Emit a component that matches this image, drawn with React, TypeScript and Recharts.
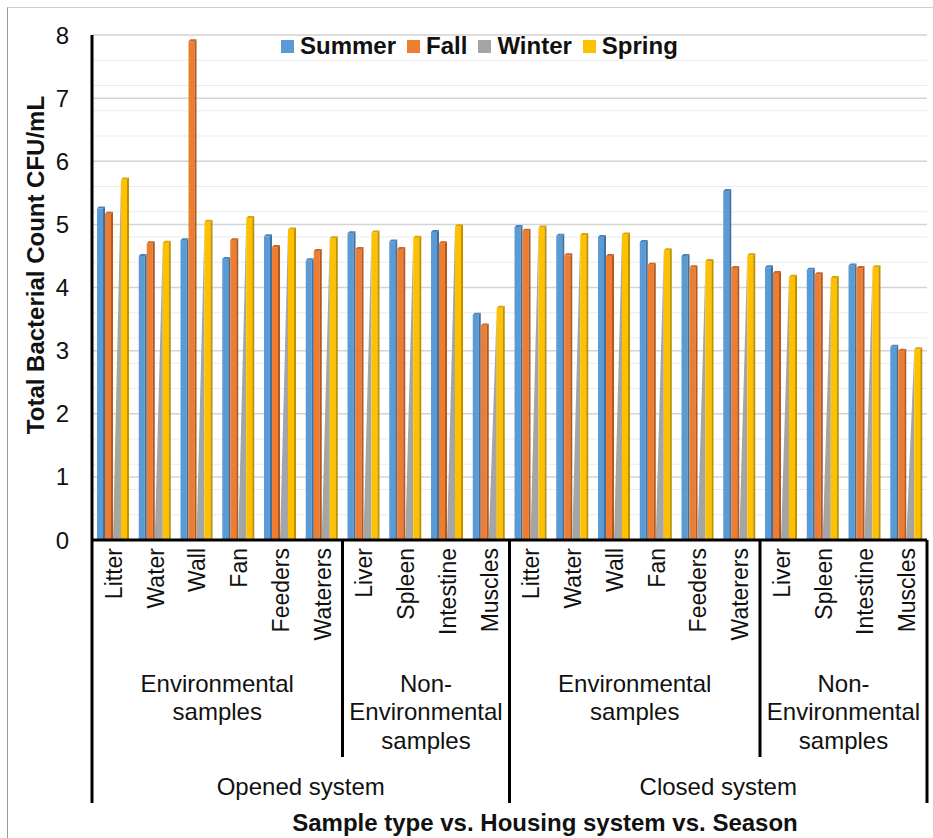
import React from "react";
import { BarChart, Bar, XAxis, YAxis, CartesianGrid, Legend } from "recharts";

const W = 933;
const H = 838;
const PLOT_LEFT = 92;
const PLOT_RIGHT = 927;
const PLOT_TOP = 35;
const PLOT_BOTTOM = 540;
const PLOT_W = PLOT_RIGHT - PLOT_LEFT;
const FONT = "'Liberation Sans', Arial, sans-serif";

const samples = [
  "Litter", "Water", "Wall", "Fan", "Feeders", "Waterers", "Liver", "Spleen", "Intestine", "Muscles",
  "Litter", "Water", "Wall", "Fan", "Feeders", "Waterers", "Liver", "Spleen", "Intestine", "Muscles",
];
const summer = [5.25, 4.5, 4.75, 4.45, 4.81, 4.43, 4.86, 4.73, 4.88, 3.57, 4.96, 4.82, 4.8, 4.72, 4.5, 5.53, 4.32, 4.28, 4.35, 3.06];
const fall = [5.17, 4.7, 7.9, 4.75, 4.64, 4.58, 4.61, 4.61, 4.7, 3.4, 4.9, 4.51, 4.5, 4.36, 4.32, 4.31, 4.23, 4.21, 4.31, 3.0];
const winter = [5.7, 4.7, 5.0, 5.08, 4.9, 4.76, 4.85, 4.78, 4.95, 3.66, 4.94, 4.82, 4.83, 4.58, 4.41, 4.5, 4.16, 4.14, 4.31, 3.01];
const spring = [5.71, 4.71, 5.04, 5.1, 4.92, 4.78, 4.87, 4.79, 4.97, 3.68, 4.95, 4.83, 4.84, 4.59, 4.42, 4.51, 4.17, 4.15, 4.32, 3.02];

const yTicks = [0, 1, 2, 3, 4, 5, 6, 7, 8];
const minorTicks = Array.from({ length: 41 }, (_, i) => Math.round(i * 2) / 10);

// sample type groups under the category labels
const typeGroups = [
  { lines: ["Environmental", "samples"], start: 0, size: 6 },
  { lines: ["Non-", "Environmental", "samples"], start: 6, size: 4 },
  { lines: ["Environmental", "samples"], start: 10, size: 6 },
  { lines: ["Non-", "Environmental", "samples"], start: 16, size: 4 },
];
const systems = [
  { label: "Opened system", start: 0, size: 10 },
  { label: "Closed system", start: 10, size: 10 },
];

const series = [
  { key: "Summer", color: "#5b9bd5", side: "#3f70a0", top: "#4a84bd" },
  { key: "Fall", color: "#ed7d31", side: "#b05a1f", top: "#c9662a" },
  { key: "Winter", color: "#a5a5a5", side: "#a5a5a5", top: "#a5a5a5" },
  { key: "Spring", color: "#ffc000", side: "#bf9000", top: "#d9a400" },
];

const data = samples.map((name, i) => ({
  id: String(i),
  name,
  Summer: summer[i],
  Fall: fall[i],
  Winter: winter[i],
  Spring: spring[i],
}));

function Column3D(props: any) {
  const { x, y, width, height, fill, side, top } = props;
  if (!height || height <= 0) return null;
  const d = 2;
  const fw = width - d;
  return (
    <g>
      <rect x={x} y={y} width={fw} height={height} fill={fill} />
      <polygon points={`${x + fw},${y} ${x + width},${y - d} ${x + width},${y + height} ${x + fw},${y + height}`} fill={side} />
      <polygon points={`${x},${y} ${x + d},${y - d} ${x + width},${y - d} ${x + fw},${y}`} fill={top} />
    </g>
  );
}

// winter columns sit behind the others, only a tapering sliver shows
function Wedge(props: any) {
  const { x, y, width, height, fill } = props;
  if (!height || height <= 0) return null;
  return <polygon points={`${x},${y + height} ${x + width},${y + height} ${x + width},${y}`} fill={fill} />;
}

function SampleTick(props: any) {
  const { x, payload } = props;
  const i = payload.index;
  const band = PLOT_W / samples.length;
  const left = x - band / 2;
  const out: React.ReactNode[] = [];
  out.push(
    <text
      key="lbl"
      transform={`translate(${x + 1},${PLOT_BOTTOM + 8}) rotate(-90)`}
      textAnchor="end"
      dominantBaseline="central"
      fontSize={23}
      fontFamily={FONT}
      fill="#111"
    >
      {samples[i]}
    </text>
  );
  const sys = systems.find((s) => s.start === i);
  const grp = typeGroups.find((g) => g.start === i);
  if (grp) {
    out.push(
      <line key="sep" x1={left} x2={left} y1={PLOT_BOTTOM} y2={sys ? 803 : 757} stroke="#000" strokeWidth={3} />
    );
    const cx = left + (grp.size * band) / 2;
    grp.lines.forEach((ln, k) => {
      out.push(
        <text key={"g" + k} x={cx} y={683 + k * 28.5} textAnchor="middle" dominantBaseline="central" fontSize={24} fontFamily={FONT} fill="#111">
          {ln}
        </text>
      );
    });
  }
  if (sys) {
    out.push(
      <text key="sys" x={left + (sys.size * band) / 2} y={786} textAnchor="middle" dominantBaseline="central" fontSize={24} fontFamily={FONT} fill="#111">
        {sys.label}
      </text>
    );
  }
  if (i === samples.length - 1) {
    out.push(<line key="end" x1={left + band} x2={left + band} y1={PLOT_BOTTOM} y2={803} stroke="#000" strokeWidth={3} />);
  }
  return <g>{out}</g>;
}

function LegendRow() {
  return (
    <div style={{ display: "flex", alignItems: "center", fontFamily: FONT, fontWeight: "bold", fontSize: 24, lineHeight: "30px", color: "#111" }}>
      {series.map((s) => (
        <div key={s.key} style={{ display: "flex", alignItems: "center", marginRight: 11 }}>
          <span style={{ display: "inline-block", width: 13, height: 13, background: s.color, marginRight: 6 }} />
          <span>{s.key}</span>
        </div>
      ))}
    </div>
  );
}

export default function App() {
  return (
    <div style={{ position: "relative", width: W, height: H, background: "#fff", overflow: "hidden" }}>
      <style>{"body{margin:0}"}</style>
      <div style={{ position: "absolute", left: 7, top: 7, width: W, height: H, borderLeft: "1px solid #9a9a9a", borderTop: "1px solid #cfcfcf" }} />
      <BarChart
        width={W}
        height={H}
        data={data}
        margin={{ top: PLOT_TOP, right: W - PLOT_RIGHT, bottom: 0, left: 32 }}
        barCategoryGap="12%"
        barGap={0}
      >
        {/* faint minor lines every 0.2, then the integer lines on top */}
        <CartesianGrid vertical={false} stroke="#ebebeb" horizontalValues={minorTicks} />
        <CartesianGrid vertical={false} stroke="#d4d4d4" strokeWidth={1.5} horizontalValues={yTicks} />
        <YAxis
          domain={[0, 8]}
          ticks={yTicks}
          width={60}
          tickSize={0}
          tickMargin={23}
          tickLine={false}
          axisLine={{ stroke: "#000", strokeWidth: 3 }}
          tick={{ fontSize: 24, fontFamily: FONT, fill: "#111" }}
          label={() => (
            <text
              transform="translate(35,265) rotate(-90)"
              textAnchor="middle"
              dominantBaseline="central"
              fontSize={24}
              fontWeight="bold"
              fontFamily={FONT}
              fill="#111"
            >
              Total Bacterial Count CFU/mL
            </text>
          )}
        />
        <XAxis
          dataKey="id"
          height={H - PLOT_BOTTOM}
          interval={0}
          tickLine={false}
          tickSize={0}
          axisLine={{ stroke: "#000", strokeWidth: 3 }}
          tick={<SampleTick />}
          label={() => (
            <text x={545} y={822} textAnchor="middle" dominantBaseline="central" fontSize={24} fontWeight="bold" fontFamily={FONT} fill="#111">
              Sample type vs. Housing system vs. Season
            </text>
          )}
        />
        <Legend
          layout="horizontal"
          verticalAlign="middle"
          align="center"
          wrapperStyle={{ top: 31, left: 281, width: 440 }}
          content={() => <LegendRow />}
        />
        {series.map((s) => (
          <Bar
            key={s.key}
            dataKey={s.key}
            fill={s.color}
            isAnimationActive={false}
            shape={(p: any) =>
              s.key === "Winter" ? <Wedge {...p} fill={s.color} /> : <Column3D {...p} fill={s.color} side={s.side} top={s.top} />
            }
          />
        ))}
      </BarChart>
    </div>
  );
}
